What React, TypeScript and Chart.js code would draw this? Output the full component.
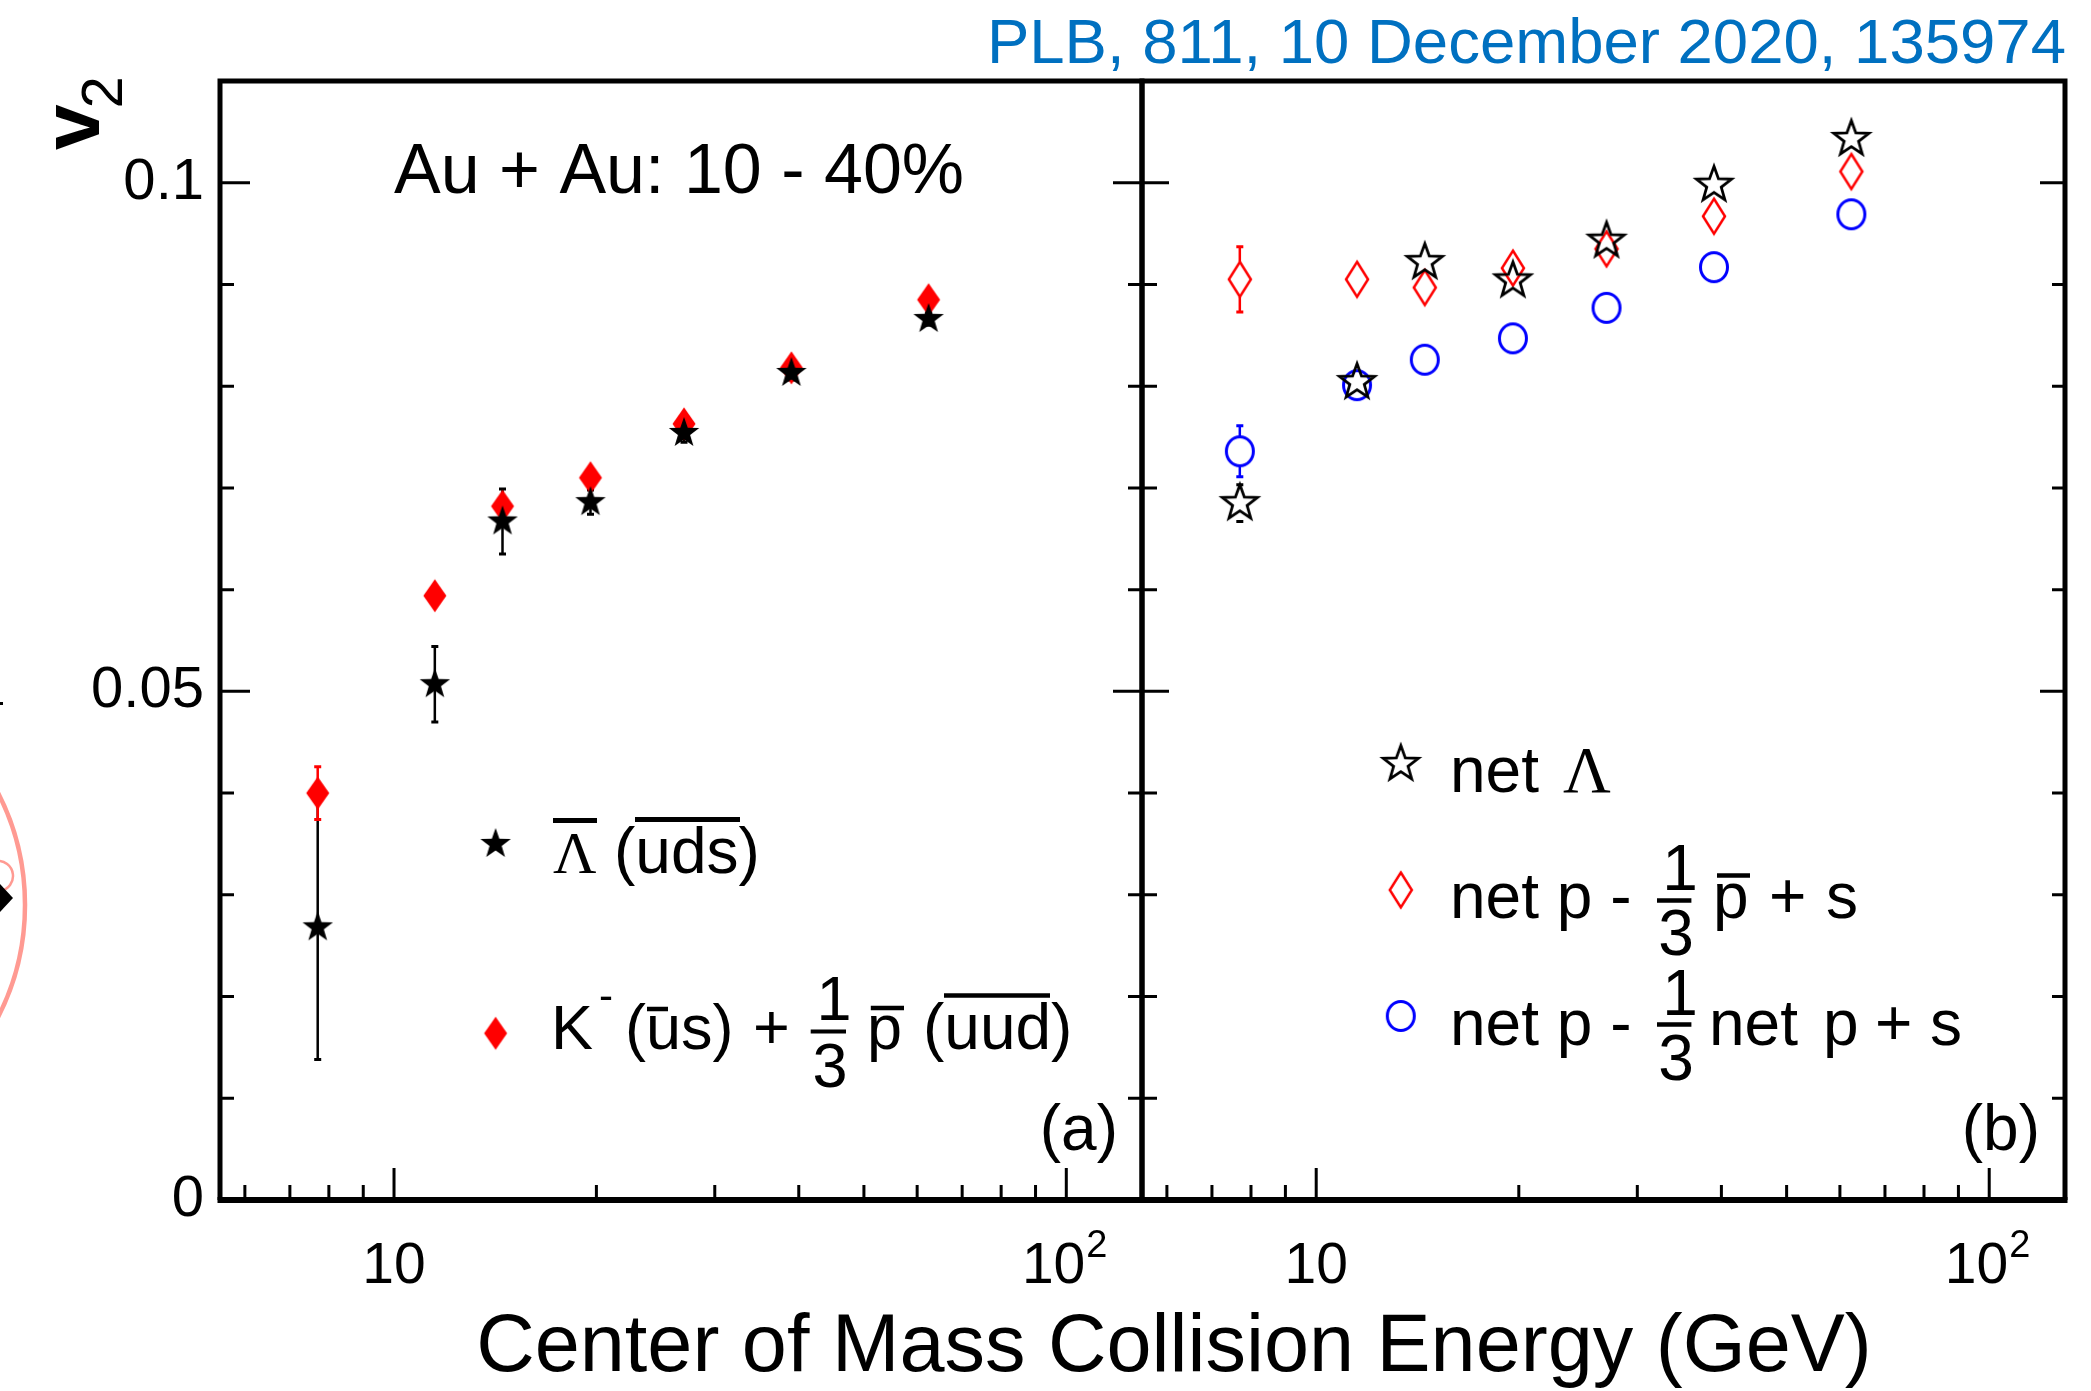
import React, { useEffect, useRef } from 'react';
import { Chart, registerables } from 'chart.js';

Chart.register(...registerables);

const W = 2091;
const H = 1391;

// ---------------- data ----------------
const ENERGY = [7.7, 11.5, 14.5, 19.6, 27, 39, 62.4];

// panel (a)
const ANTI_LAMBDA = [0.0268, 0.0507, 0.0667, 0.0686, 0.0754, 0.0813, 0.0866];
const ANTI_LAMBDA_ERR = [0.013, 0.0037, 0.0032, 0.0012, 0.0009, 0.0007, 0.0006];
const K_PBAR = [0.04, 0.0594, 0.0682, 0.071, 0.0763, 0.0818, 0.0885];
const K_PBAR_ERR = [0.0026, 0.0008, 0.0008, 0.0006, 0.0005, 0.0005, 0.0005];

// panel (b)
const NET_LAMBDA = [0.0685, 0.0804, 0.0922, 0.0904, 0.0943, 0.0998, 0.1043];
const NET_LAMBDA_ERR = [0.0018, 0.0012, 0.0012, 0.001, 0.0009, 0.0009, 0.001];
const NET_P_PBAR = [0.0905, 0.0905, 0.0897, 0.0916, 0.0935, 0.0967, 0.1011];
const NET_P_PBAR_ERR = [0.0032, 0.0008, 0.0007, 0.0006, 0.0005, 0.0005, 0.0006];
const NET_P_NETP = [0.0736, 0.0801, 0.0826, 0.0847, 0.0877, 0.0917, 0.0969];
const NET_P_NETP_ERR = [0.0025, 0.0006, 0.0005, 0.0005, 0.0004, 0.0004, 0.0005];

// axes
const X_MIN = 5.51;
const X_MAX = 129.6;
const Y_MIN = 0;
const Y_MAX = 0.11;
const X_MAJOR = [10, 100];
const X_TICK_BASE = ['10', '10'];
const X_TICK_EXP = ['', '2'];
const X_MINOR = [6, 7, 8, 9, 20, 30, 40, 50, 60, 70, 80, 90];
const Y_MAJOR = [0, 0.05, 0.1];
const Y_TICK_LABELS = ['0', '0.05', '0.1'];
const Y_MINOR = [0.01, 0.02, 0.03, 0.04, 0.06, 0.07, 0.08, 0.09];

// texts
const PUB_TEXT = 'PLB, 811, 10 December 2020, 135974';
const SYSTEM_TEXT = 'Au + Au: 10 - 40%';
const X_TITLE = 'Center of Mass Collision Energy (GeV)';

// ---------------- layout ----------------
const PLOT_TOP = 81;
const PLOT_BOTTOM = 1200;
const A_LEFT = 220;
const MID = 1142;
const B_RIGHT = 2065;

const SANS = '"Liberation Sans", Arial, Helvetica, sans-serif';
const SERIF = '"Liberation Serif", "Times New Roman", serif';
const BLUE_TEXT = '#0070C0';

type Markers = {
  filledStar: HTMLCanvasElement;
  openStar: HTMLCanvasElement;
  filledDiamond: HTMLCanvasElement;
  openDiamond: HTMLCanvasElement;
  openCircle: HTMLCanvasElement;
};

function makeCanvas(w: number, h: number, draw: (ctx: CanvasRenderingContext2D, cx: number, cy: number) => void) {
  const c = document.createElement('canvas');
  c.width = w;
  c.height = h;
  const ctx = c.getContext('2d')!;
  draw(ctx, w / 2, h / 2);
  return c;
}

function starPath(ctx: CanvasRenderingContext2D, cx: number, cy: number, R: number, r: number) {
  ctx.beginPath();
  for (let i = 0; i < 10; i++) {
    const a = -Math.PI / 2 + (i * Math.PI) / 5;
    const rad = i % 2 === 0 ? R : r;
    const x = cx + rad * Math.cos(a);
    const y = cy + rad * Math.sin(a);
    if (i === 0) ctx.moveTo(x, y);
    else ctx.lineTo(x, y);
  }
  ctx.closePath();
}

function diamondPath(ctx: CanvasRenderingContext2D, cx: number, cy: number, hw: number, hh: number) {
  ctx.beginPath();
  ctx.moveTo(cx, cy - hh);
  ctx.lineTo(cx + hw, cy);
  ctx.lineTo(cx, cy + hh);
  ctx.lineTo(cx - hw, cy);
  ctx.closePath();
}

function buildMarkers(): Markers {
  return {
    filledStar: makeCanvas(36, 36, (ctx, cx, cy) => {
      starPath(ctx, cx, cy, 16, 6.4);
      ctx.fillStyle = '#000';
      ctx.fill();
    }),
    openStar: makeCanvas(46, 46, (ctx, cx, cy) => {
      starPath(ctx, cx, cy, 18.5, 7.6);
      ctx.strokeStyle = '#000';
      ctx.lineWidth = 2.8;
      ctx.lineJoin = 'miter';
      ctx.stroke();
    }),
    filledDiamond: makeCanvas(28, 40, (ctx, cx, cy) => {
      diamondPath(ctx, cx, cy, 11.5, 16.5);
      ctx.fillStyle = '#FF0000';
      ctx.fill();
    }),
    openDiamond: makeCanvas(30, 44, (ctx, cx, cy) => {
      diamondPath(ctx, cx, cy, 11, 17.5);
      ctx.strokeStyle = '#FF0000';
      ctx.lineWidth = 2.5;
      ctx.stroke();
    }),
    openCircle: makeCanvas(36, 38, (ctx, cx, cy) => {
      ctx.beginPath();
      ctx.ellipse(cx, cy, 13.5, 14.5, 0, 0, Math.PI * 2);
      ctx.strokeStyle = '#0000FF';
      ctx.lineWidth = 3;
      ctx.stroke();
    }),
  };
}

const pts = (vals: number[]) => ENERGY.map((x, i) => ({ x, y: vals[i] }));

const errorBarPlugin = {
  id: 'errorBars',
  beforeDatasetsDraw(chart: any) {
    const ctx = chart.ctx as CanvasRenderingContext2D;
    const xs = chart.scales.x;
    const ys = chart.scales.y;
    chart.data.datasets.forEach((ds: any) => {
      if (!ds.errorBars) return;
      ctx.save();
      ctx.strokeStyle = ds.errColor;
      ds.data.forEach((p: any, i: number) => {
        const e = ds.errorBars[i];
        const x = xs.getPixelForValue(p.x);
        const yc = ys.getPixelForValue(p.y);
        const y1 = ys.getPixelForValue(p.y + e);
        const y2 = ys.getPixelForValue(p.y - e);
        const gap = ds.errGap || 0;
        if (yc - y1 <= gap) return;
        ctx.lineWidth = 2.5;
        ctx.beginPath();
        ctx.moveTo(x, y1);
        ctx.lineTo(x, yc - gap);
        ctx.moveTo(x, yc + gap);
        ctx.lineTo(x, y2);
        ctx.stroke();
        ctx.lineWidth = 3;
        ctx.beginPath();
        ctx.moveTo(x - 3.5, y1);
        ctx.lineTo(x + 3.5, y1);
        ctx.moveTo(x - 3.5, y2);
        ctx.lineTo(x + 3.5, y2);
        ctx.stroke();
      });
      ctx.restore();
    });
  },
};

function txt(ctx: CanvasRenderingContext2D, s: string, x: number, y: number, font: string, align: CanvasTextAlign = 'left', color = '#000') {
  ctx.font = font;
  ctx.textAlign = align;
  ctx.textBaseline = 'alphabetic';
  ctx.fillStyle = color;
  ctx.fillText(s, x, y);
}

function drawFrame(chart: any, t: { lMaj: number; lMin: number; rMaj: number; rMin: number }) {
  const ctx = chart.ctx as CanvasRenderingContext2D;
  const { left, right, top, bottom } = chart.chartArea;
  const xs = chart.scales.x;
  const ys = chart.scales.y;
  ctx.save();
  ctx.strokeStyle = '#000';
  ctx.lineCap = 'butt';
  ctx.lineWidth = 3;
  ctx.beginPath();
  for (const v of Y_MAJOR) {
    if (v === Y_MIN) continue;
    const y = ys.getPixelForValue(v);
    ctx.moveTo(left, y);
    ctx.lineTo(left + t.lMaj, y);
    ctx.moveTo(right, y);
    ctx.lineTo(right - t.rMaj, y);
  }
  for (const v of Y_MINOR) {
    const y = ys.getPixelForValue(v);
    ctx.moveTo(left, y);
    ctx.lineTo(left + t.lMin, y);
    ctx.moveTo(right, y);
    ctx.lineTo(right - t.rMin, y);
  }
  for (const v of X_MAJOR) {
    const x = xs.getPixelForValue(v);
    ctx.moveTo(x, bottom);
    ctx.lineTo(x, bottom - 32);
  }
  for (const v of X_MINOR) {
    const x = xs.getPixelForValue(v);
    ctx.moveTo(x, bottom);
    ctx.lineTo(x, bottom - 15);
  }
  ctx.stroke();
  ctx.lineWidth = 5;
  ctx.beginPath();
  ctx.moveTo(left, top - 2.5);
  ctx.lineTo(left, bottom);
  ctx.moveTo(right, top - 2.5);
  ctx.lineTo(right, bottom);
  ctx.moveTo(left - 2.5, top);
  ctx.lineTo(right + 2.5, top);
  ctx.stroke();
  ctx.lineWidth = 6;
  ctx.beginPath();
  ctx.moveTo(left - 2.5, bottom);
  ctx.lineTo(right + 2.5, bottom);
  ctx.stroke();
  ctx.restore();

  // x tick labels (with raised exponent), placed through the x scale
  X_MAJOR.forEach((v, i) => {
    const x = xs.getPixelForValue(v);
    const base = X_TICK_BASE[i];
    const exp = X_TICK_EXP[i];
    if (!exp) {
      txt(ctx, base, x, 1283, `57px ${SANS}`, 'center');
    } else {
      txt(ctx, base, x + 19, 1283, `57px ${SANS}`, 'right');
      txt(ctx, exp, x + 20, 1257, `38px ${SANS}`, 'left');
    }
  });
}

function hline(ctx: CanvasRenderingContext2D, x1: number, x2: number, y: number, lw: number) {
  ctx.save();
  ctx.strokeStyle = '#000';
  ctx.lineWidth = lw;
  ctx.beginPath();
  ctx.moveTo(x1, y);
  ctx.lineTo(x2, y);
  ctx.stroke();
  ctx.restore();
}

function drawImg(ctx: CanvasRenderingContext2D, img: HTMLCanvasElement, cx: number, cy: number) {
  ctx.drawImage(img, cx - img.width / 2, cy - img.height / 2);
}

function xScale(): any {
  return {
    type: 'logarithmic',
    min: X_MIN,
    max: X_MAX,
    position: 'bottom',
    grid: { display: false, drawTicks: false },
    border: { display: false },
    ticks: { display: false, autoSkip: false, maxRotation: 0, minRotation: 0 },
    afterBuildTicks: (s: any) => {
      s.ticks = X_MAJOR.map((v) => ({ value: v }));
    },
    afterFit: (s: any) => {
      s.height = H - PLOT_BOTTOM;
    },
  };
}

function configA(m: Markers): any {
  return {
    type: 'scatter',
    data: {
      datasets: [
        {
          label: 'anti-Lambda',
          data: pts(ANTI_LAMBDA),
          pointStyle: m.filledStar,
          pointRadius: 10,
          borderWidth: 0,
          backgroundColor: 'transparent',
          errorBars: ANTI_LAMBDA_ERR,
          errColor: '#000',
          errGap: 0,
        },
        {
          label: 'K- + 1/3 pbar',
          data: pts(K_PBAR),
          pointStyle: m.filledDiamond,
          pointRadius: 10,
          borderWidth: 0,
          backgroundColor: 'transparent',
          errorBars: K_PBAR_ERR,
          errColor: '#FF0000',
          errGap: 0,
        },
      ],
    },
    options: {
      responsive: false,
      maintainAspectRatio: false,
      devicePixelRatio: 1,
      animation: false,
      events: [],
      layout: { padding: { left: 0, top: PLOT_TOP, right: W - MID, bottom: 0 } },
      plugins: { legend: { display: false }, tooltip: { enabled: false } },
      scales: {
        x: xScale(),
        y: {
          type: 'linear',
          min: Y_MIN,
          max: Y_MAX,
          position: 'left',
          grid: { display: false, drawTicks: false },
          border: { display: false },
          ticks: {
            padding: 16,
            color: '#000',
            font: { family: SANS, size: 58, lineHeight: 1 },
            callback: (v: any) => {
              const i = Y_MAJOR.findIndex((t) => Math.abs(t - Number(v)) < 1e-9);
              return i >= 0 ? Y_TICK_LABELS[i] : '';
            },
          },
          afterBuildTicks: (s: any) => {
            s.ticks = Y_MAJOR.map((v) => ({ value: v }));
          },
          afterFit: (s: any) => {
            s.width = A_LEFT;
          },
        },
      },
    },
    plugins: [
      errorBarPlugin,
      {
        id: 'panelA',
        afterDraw(chart: any) {
          const ctx = chart.ctx as CanvasRenderingContext2D;
          drawFrame(chart, { lMaj: 30, lMin: 14, rMaj: 29, rMin: 14 });

          // cropped neighbour figure at the left edge
          ctx.save();
          ctx.strokeStyle = '#FF9A92';
          ctx.lineWidth = 4.5;
          ctx.beginPath();
          ctx.arc(-221, 905, 246, -0.55, 0.55);
          ctx.stroke();
          ctx.lineWidth = 2.5;
          ctx.beginPath();
          ctx.arc(-2, 876, 15, -1.7, 1.4);
          ctx.stroke();
          ctx.fillStyle = '#000';
          ctx.beginPath();
          ctx.moveTo(0, 884);
          ctx.lineTo(13, 898);
          ctx.lineTo(0, 912);
          ctx.closePath();
          ctx.fill();
          ctx.fillRect(0, 702, 3, 3);
          ctx.restore();

          // y title v2 (rotated)
          ctx.save();
          ctx.translate(98.5, 150);
          ctx.rotate(-Math.PI / 2);
          txt(ctx, 'v', 0, 0, `bold 82px ${SANS}`);
          txt(ctx, '2', 41.5, 23.5, `58px ${SANS}`);
          ctx.restore();

          // header texts
          txt(ctx, PUB_TEXT, 2066, 63, `63.5px ${SANS}`, 'right', BLUE_TEXT);
          txt(ctx, SYSTEM_TEXT, 394, 193, `70px ${SANS}`);
          txt(ctx, X_TITLE, 1174, 1371, `81px ${SANS}`, 'center');
          txt(ctx, '(a)', 1118, 1150, `64px ${SANS}`, 'right');

          // legend (a)
          const f = `63px ${SANS}`;
          drawImg(ctx, m.filledStar, 495.6, 844);
          txt(ctx, '\u039B', 553, 873, `60px ${SERIF}`);
          hline(ctx, 553, 597, 820.5, 5);
          txt(ctx, '(uds)', 614, 873, `64px ${SANS}`);
          hline(ctx, 635, 740, 819.5, 5);

          drawImg(ctx, m.filledDiamond, 495.6, 1033.3);
          txt(ctx, 'K', 551, 1049, f);
          txt(ctx, '-', 599, 1010, `42px ${SANS}`);
          txt(ctx, '(us)', 625, 1049, f);
          hline(ctx, 647, 668, 1009, 4.5);
          txt(ctx, '+', 753, 1049, f);
          txt(ctx, '1', 834, 1020, f, 'center');
          hline(ctx, 810.7, 846, 1031.5, 4);
          txt(ctx, '3', 830, 1087, f, 'center');
          txt(ctx, 'p', 867, 1049, f);
          hline(ctx, 870.8, 904, 1008, 4.5);
          txt(ctx, '(uud)', 923, 1049, `64px ${SANS}`);
          hline(ctx, 944, 1050, 995.5, 4.5);
        },
      },
    ],
  };
}

function configB(m: Markers): any {
  return {
    type: 'scatter',
    data: {
      datasets: [
        {
          label: 'net Lambda',
          data: pts(NET_LAMBDA),
          pointStyle: m.openStar,
          pointRadius: 10,
          borderWidth: 0,
          backgroundColor: 'transparent',
          errorBars: NET_LAMBDA_ERR,
          errColor: '#000',
          errGap: 17,
        },
        {
          label: 'net p - 1/3 pbar + s',
          data: pts(NET_P_PBAR),
          pointStyle: m.openDiamond,
          pointRadius: 10,
          borderWidth: 0,
          backgroundColor: 'transparent',
          errorBars: NET_P_PBAR_ERR,
          errColor: '#FF0000',
          errGap: 17.5,
        },
        {
          label: 'net p - 1/3 net p + s',
          data: pts(NET_P_NETP),
          pointStyle: m.openCircle,
          pointRadius: 10,
          borderWidth: 0,
          backgroundColor: 'transparent',
          errorBars: NET_P_NETP_ERR,
          errColor: '#0000FF',
          errGap: 15,
        },
      ],
    },
    options: {
      responsive: false,
      maintainAspectRatio: false,
      devicePixelRatio: 1,
      animation: false,
      events: [],
      layout: { padding: { left: MID, top: PLOT_TOP, right: W - B_RIGHT, bottom: 0 } },
      plugins: { legend: { display: false }, tooltip: { enabled: false } },
      scales: {
        x: xScale(),
        y: {
          type: 'linear',
          min: Y_MIN,
          max: Y_MAX,
          position: 'left',
          display: false,
        },
      },
    },
    plugins: [
      errorBarPlugin,
      {
        id: 'panelB',
        afterDraw(chart: any) {
          const ctx = chart.ctx as CanvasRenderingContext2D;
          drawFrame(chart, { lMaj: 27, lMin: 15, rMaj: 25, rMin: 13 });
          txt(ctx, '(b)', 2040, 1150, `64px ${SANS}`, 'right');

          const f = `64px ${SANS}`;
          // line 1
          drawImg(ctx, m.openStar, 1400.8, 764);
          txt(ctx, 'net', 1450, 791.7, f);
          txt(ctx, '\u039B', 1563, 791.7, `66px ${SERIF}`);
          // line 2
          drawImg(ctx, m.openDiamond, 1400.8, 890);
          txt(ctx, 'net p -', 1450, 918, f);
          txt(ctx, '1', 1680, 890, f, 'center');
          hline(ctx, 1657, 1691.4, 900.5, 4.5);
          txt(ctx, '3', 1676, 955, f, 'center');
          txt(ctx, 'p', 1713, 918, f);
          hline(ctx, 1717, 1750, 875.5, 4.5);
          txt(ctx, '+', 1769, 918, f);
          txt(ctx, 's', 1826, 918, f);
          // line 3
          drawImg(ctx, m.openCircle, 1400.8, 1016);
          txt(ctx, 'net p -', 1450, 1045, f);
          txt(ctx, '1', 1680, 1015, f, 'center');
          hline(ctx, 1657, 1691.4, 1024.5, 4.5);
          txt(ctx, '3', 1676, 1080, f, 'center');
          txt(ctx, 'net', 1709, 1045, f);
          txt(ctx, 'p', 1823, 1045, f);
          txt(ctx, '+', 1875, 1045, f);
          txt(ctx, 's', 1930, 1045, f);
        },
      },
    ],
  };
}

export default function App() {
  const refA = useRef<HTMLCanvasElement>(null);
  const refB = useRef<HTMLCanvasElement>(null);

  useEffect(() => {
    const markers = buildMarkers();
    const chartA = new Chart(refA.current as HTMLCanvasElement, configA(markers));
    const chartB = new Chart(refB.current as HTMLCanvasElement, configB(markers));
    return () => {
      chartA.destroy();
      chartB.destroy();
    };
  }, []);

  const cStyle: React.CSSProperties = { position: 'absolute', left: 0, top: 0, width: W, height: H };
  return (
    <div style={{ position: 'absolute', left: 0, top: 0, width: W, height: H, background: '#fff', overflow: 'hidden' }}>
      <canvas ref={refA} width={W} height={H} style={cStyle} />
      <canvas ref={refB} width={W} height={H} style={cStyle} />
    </div>
  );
}
